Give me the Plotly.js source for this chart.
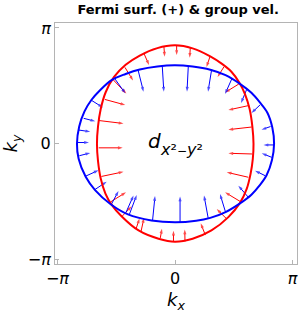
<!DOCTYPE html>
<html><head><meta charset="utf-8">
<script src="https://cdn.plot.ly/plotly-3.0.1.min.js"></script>
<style>html,body{margin:0;padding:0;background:#fff}#chart{width:299px;height:318px}</style>
</head><body><div id="chart"></div>
<script>
// Fermi surface (+) curves, in units of pi
const redCurveKx = [0.668,0.658,0.635,0.597,0.548,0.480,0.400,0.300,0.150,0.000,-0.150,-0.300,-0.420,-0.520,-0.590,-0.632,-0.655,-0.664,-0.655,-0.632,-0.592,-0.540,-0.455,-0.310,-0.140,0.000,0.150,0.310,0.454,0.553,0.610,0.643,0.662,0.668];
const redCurveKy = [0.000,0.150,0.300,0.425,0.527,0.622,0.690,0.755,0.824,0.850,0.826,0.762,0.682,0.575,0.445,0.300,0.150,0.000,-0.150,-0.300,-0.430,-0.525,-0.625,-0.748,-0.820,-0.846,-0.820,-0.748,-0.633,-0.510,-0.390,-0.260,-0.130,0.000];
const blueCurveKx = [0.843,0.828,0.785,0.720,0.650,0.550,0.430,0.300,0.150,0.000,-0.150,-0.300,-0.420,-0.540,-0.640,-0.710,-0.770,-0.815,-0.834,-0.820,-0.760,-0.680,-0.550,-0.400,-0.200,0.000,0.180,0.300,0.430,0.553,0.650,0.720,0.780,0.825,0.843];
const blueCurveKy = [0.000,0.140,0.270,0.360,0.440,0.520,0.593,0.640,0.667,0.678,0.668,0.642,0.603,0.550,0.460,0.380,0.280,0.150,0.000,-0.130,-0.285,-0.400,-0.520,-0.610,-0.662,-0.678,-0.665,-0.640,-0.590,-0.515,-0.440,-0.360,-0.270,-0.140,0.000];

// group-velocity arrows: tail on the curve, head inside
const redTailKx = [0.014,0.130,0.298,0.417,0.543,0.631,0.653,0.655,0.624,0.553,0.440,0.258,0.085,-0.013,-0.125,-0.289,-0.332,-0.454,-0.545,-0.626,-0.649,-0.649,-0.597,-0.528,-0.426,-0.266,-0.094];
const redTailKy = [0.849,0.827,0.754,0.665,0.516,0.331,0.145,-0.088,-0.289,-0.497,-0.649,-0.788,-0.844,-0.839,-0.813,-0.757,-0.736,-0.630,-0.500,-0.282,-0.035,0.201,0.383,0.555,0.660,0.784,0.836];
const redHeadKx = [0.014,0.125,0.268,0.362,0.426,0.454,0.454,0.454,0.440,0.426,0.355,0.219,0.083,-0.013,-0.111,-0.264,-0.302,-0.369,-0.417,-0.438,-0.445,-0.438,-0.423,-0.414,-0.357,-0.221,-0.088];
const redHeadKy = [0.767,0.743,0.663,0.577,0.443,0.292,0.122,-0.082,-0.246,-0.419,-0.563,-0.687,-0.740,-0.750,-0.733,-0.641,-0.645,-0.540,-0.419,-0.242,-0.035,0.175,0.335,0.434,0.547,0.680,0.752];

const blueTailKx = [0.113,0.312,0.483,0.610,0.723,0.813,0.843,0.823,0.766,0.624,0.430,0.283,0.043,-0.191,-0.417,-0.387,-0.540,-0.681,-0.757,-0.814,-0.830,-0.820,-0.777,-0.715,-0.511,-0.315,-0.108];
const blueTailKy = [0.666,0.642,0.560,0.470,0.335,0.149,-0.010,-0.117,-0.275,-0.462,-0.590,-0.645,-0.678,-0.662,-0.593,-0.606,-0.520,-0.395,-0.278,-0.103,0.011,0.119,0.220,0.378,0.560,0.640,0.666];
const blueHeadKx = [0.102,0.281,0.426,0.562,0.651,0.736,0.753,0.738,0.681,0.539,0.383,0.247,0.043,-0.170,-0.353,-0.326,-0.481,-0.581,-0.651,-0.721,-0.732,-0.721,-0.678,-0.613,-0.423,-0.268,-0.095];
const blueHeadKy = [0.450,0.450,0.430,0.352,0.266,0.122,-0.010,-0.082,-0.232,-0.362,-0.434,-0.446,-0.455,-0.451,-0.446,-0.442,-0.408,-0.327,-0.229,-0.079,0.011,0.104,0.194,0.313,0.436,0.450,0.450];

const tickVals = [-1, 0, 1];
const tickLabels = ['\u2212<i>\u03c0</i>', '0', '<i>\u03c0</i>'];

const RED = '#ff0000', BLUE = '#0000ff';
const font = 'DejaVu Sans, sans-serif';

function arrowTrace(tx, ty, hx, hy, color) {
  const x = [], y = [], s = [];
  tx.forEach((_, i) => {
    x.push(tx[i], hx[i], null);
    y.push(ty[i], hy[i], null);
    s.push(0, 5, 0);
  });
  return {
    x, y, mode: 'lines+markers', hoverinfo: 'skip', connectgaps: false,
    line: {color: color, width: 1},
    marker: {symbol: 'arrow', angleref: 'previous', size: s, color: color, line: {width: 0}}
  };
}

const traces = [
  arrowTrace(redTailKx, redTailKy, redHeadKx, redHeadKy, RED),
  arrowTrace(blueTailKx, blueTailKy, blueHeadKx, blueHeadKy, BLUE),
  {x: redCurveKx, y: redCurveKy, mode: 'lines', line: {color: RED, width: 2, shape: 'spline'}, hoverinfo: 'skip'},
  {x: blueCurveKx, y: blueCurveKy, mode: 'lines', line: {color: BLUE, width: 2, shape: 'spline'}, hoverinfo: 'skip'}
];

const annotations = [
  {xref: 'paper', yref: 'paper', x: 0.376, y: 0.452, xanchor: 'left', yanchor: 'bottom', text: '<i>d</i>', showarrow: false, font: {family: font, size: 20, color: '#000'}},
  {xref: 'paper', yref: 'paper', x: 0.424, y: 0.426, xanchor: 'left', yanchor: 'bottom', text: '<i>x</i>\u00b2<span style="font-size:12px">\u2212</span><i>y</i>\u00b2', showarrow: false, font: {family: font, size: 16, color: '#000'}}
];

const axisCommon = {
  tickvals: tickVals, ticktext: tickLabels, showgrid: false, zeroline: false,
  showline: true, mirror: true, linecolor: '#b4b4b4', linewidth: 1,
  ticks: 'inside', ticklen: 4, tickcolor: '#b4b4b4',
  tickfont: {family: font, size: 16, color: '#000'}
};

const layout = {
  width: 299, height: 318,
  margin: {l: 55, r: 2, t: 23, b: 54, pad: 0},
  paper_bgcolor: '#fff', plot_bgcolor: '#fff', showlegend: false,
  title: {text: '<b>Fermi surf. (+) &amp; group vel.</b>', x: 0.596, xanchor: 'center', y: 0.97, yanchor: 'middle', font: {family: font, size: 13, color: '#000'}},
  xaxis: Object.assign({}, axisCommon, {range: [-1.021, 1.038], title: {text: '<i>k</i><sub><i>x</i></sub>', font: {family: font, size: 18, color: '#000'}, standoff: 6}}),
  yaxis: Object.assign({}, axisCommon, {range: [-1.038, 1.043], title: {text: '<i>k</i><sub><i>y</i></sub>', font: {family: font, size: 18, color: '#000'}, standoff: 6}}),
  annotations: annotations
};

Plotly.newPlot('chart', traces, layout, {staticPlot: true, displayModeBar: false});
</script></body></html>
